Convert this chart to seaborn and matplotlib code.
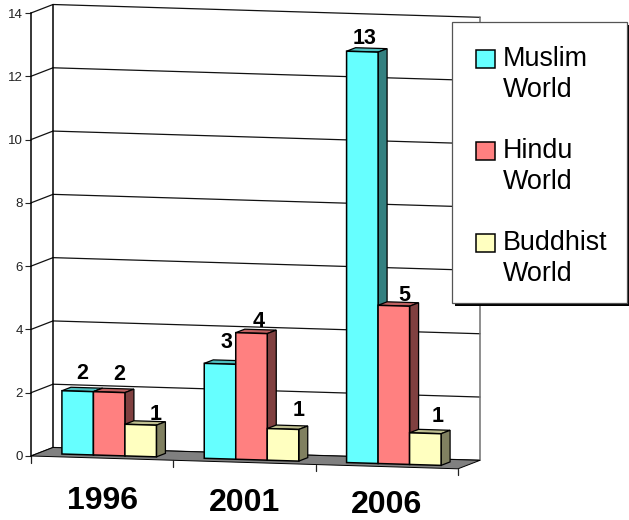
import matplotlib
matplotlib.use('Agg')
import matplotlib.pyplot as plt
import seaborn as sns
import pandas as pd
import numpy as np
from matplotlib.patches import Polygon, Rectangle
from matplotlib.transforms import Affine2D, IdentityTransform

# data
years = ['1996', '2001', '2006']
groups = ['Muslim\nWorld', 'Hindu\nWorld', 'Buddhist\nWorld']
muslim = [2, 3, 13]
hindu = [2, 4, 5]
buddhist = [1, 1, 1]
y_ticks = [0, 2, 4, 6, 8, 10, 12, 14]

front_colors = ['#66FFFF', '#FF8080', '#FFFFC0']
top_colors = ['#4DBFBF', '#BF6060', '#BFBF90']
side_colors = ['#338080', '#804040', '#808060']

# pixel nudges of the labels (excel placed them a bit unevenly)
label_nudge = [[(5, 18), (10, 18), (15, 10)],
               [(6, 21), (7, 12), (16, 19)],
               [(2, 13), (10, 10), (12, 17)]]
year_nudge = [-43, -41, -38]

sns.set_theme(style='white')
plt.rcParams['font.family'] = ['Liberation Sans', 'DejaVu Sans']

W, H = 629, 520
fig = plt.figure(figsize=(W / 100, H / 100), dpi=100)
ax = fig.add_axes([31 / W, 1 - 456 / H, 427 / W, 443 / H])

df = pd.DataFrame({
    'year': np.repeat(years, 3),
    'group': groups * 3,
    'value': np.array([muslim, hindu, buddhist]).T.ravel(),
})
sns.barplot(data=df, x='year', y='value', hue='group', hue_order=groups, order=years,
            palette=front_colors, saturation=1, width=0.664, gap=0, errorbar=None,
            edgecolor='black', linewidth=1.1, ax=ax)

ax.set_xlim(-0.5, 2.5)
ax.set_ylim(0, 14)
ax.set_yticks(y_ticks)
ax.set_xticks([])
ax.set_xlabel('')
ax.set_ylabel('')
ax.patch.set_alpha(0)
for s in ['top', 'right', 'bottom']:
    ax.spines[s].set_visible(False)
ax.spines['left'].set_color('black')
ax.spines['left'].set_linewidth(1.1)
ax.tick_params(axis='y', left=True, length=4.3, width=0.8, color='#222222',
               labelsize=9.5, labelcolor='#222222', pad=1.5)

# fake 3d: shear everything down to the right, depth is a shift up-right
K = 0.03
DX, DY = 22, 8.5
shear = Affine2D(np.array([[1, 0, 0], [-K, 1, K * 31], [0, 0, 1]]))


def plane(d):
    return ax.transData + shear + Affine2D().translate(DX * d, DY * d)


front = plane(0)
back = plane(1)
px = IdentityTransform()

# floor
xl = ax.get_xlim()
corners = [(xl[0], 0), (xl[1], 0)]
floor_pts = np.vstack([front.transform(corners), back.transform(corners[::-1])])
ax.add_patch(Polygon(floor_pts, closed=True, facecolor='#808080', edgecolor='black',
                     linewidth=0.7, transform=px, zorder=1, clip_on=False))

# walls
for v in y_ticks:
    ax.plot(xl, [v, v], color='#111111', lw=0.9, transform=back, zorder=0.5, clip_on=False)
    p = np.vstack([front.transform([(xl[0], v)]), back.transform([(xl[0], v)])])
    ax.plot(p[:, 0], p[:, 1], color='#111111', lw=0.9, transform=px, zorder=0.5, clip_on=False)
ax.plot([xl[0], xl[0]], [0, 14], color='black', lw=1.1, transform=back, zorder=0.5, clip_on=False)
ax.plot([xl[1], xl[1]], [0, 14], color='#707070', lw=1.1, transform=back, zorder=0.5, clip_on=False)

# category ticks + year labels
for u in [-0.5, 0.5, 1.5, 2.5]:
    p = front.transform([(u, 0)])[0]
    ax.plot([p[0], p[0]], [p[1], p[1] - 6.5], color='#222222', lw=0.9, transform=px,
            zorder=1, clip_on=False)
for i, yr in enumerate(years):
    ax.annotate(yr, xy=(i, 0), xycoords=front, xytext=(0, year_nudge[i]), textcoords='offset pixels',
                ha='center', va='center', fontsize=23, fontweight='bold', color='black',
                annotation_clip=False)

# bars: front face from seaborn, top and side added behind it
bar_front = plane(7 / 22)
bar_back = plane(16 / 22)
for h, cont in enumerate(ax.containers):
    for i, bar in enumerate(cont):
        z = 3 + h + i * 3
        bar.set_transform(bar_front)
        bar.set_clip_on(False)
        bar.set_zorder(z + 0.2)
        x0, x1 = bar.get_x(), bar.get_x() + bar.get_width()
        top = bar.get_height()
        a, b = bar_front.transform([(x0, top), (x1, top)])
        c, d = bar_back.transform([(x0, top), (x1, top)])
        e = bar_front.transform([(x1, 0)])[0]
        f = bar_back.transform([(x1, 0)])[0]
        ax.add_patch(Polygon([a, b, d, c], closed=True, facecolor=top_colors[h], edgecolor='black',
                             linewidth=0.9, transform=px, zorder=z, clip_on=False))
        ax.add_patch(Polygon([b, d, f, e], closed=True, facecolor=side_colors[h], edgecolor='black',
                             linewidth=0.9, transform=px, zorder=z, clip_on=False))
        ax.annotate(str(int(top)), xy=((x0 + x1) / 2, top), xycoords=bar_front,
                    xytext=label_nudge[i][h], textcoords='offset pixels', ha='center', va='center',
                    fontsize=15.5, fontweight='bold', color='black', zorder=30,
                    annotation_clip=False)

# legend: box drawn by hand because the auto frame comes out too tall
box = (452 / W, 1 - 303 / H), 175 / W, 281 / H
ax.add_patch(Rectangle((box[0][0] + 3 / W, box[0][1] - 3 / H), box[1], box[2], transform=fig.transFigure,
                       facecolor='black', edgecolor='none', zorder=48, clip_on=False))
ax.add_patch(Rectangle(box[0], box[1], box[2], transform=fig.transFigure, facecolor='white',
                       edgecolor='#555555', linewidth=0.9, zorder=49, clip_on=False))
sns.move_legend(ax, loc='upper left', bbox_to_anchor=(452 / W, 1 - 22 / H),
                bbox_transform=fig.transFigure, title=None, frameon=False,
                fontsize=19.4, labelspacing=1.3, handlelength=0.68, handleheight=0.65,
                handletextpad=0.3, borderpad=0.9, borderaxespad=0)
leg = ax.get_legend()
leg.set_zorder(50)
for t in leg.get_texts():
    t.set_linespacing(1.25)
    t.set_color('black')
# swatch sits on the first text line, not in the middle
for sw in leg.get_patches():
    sw.set_y(sw.get_y() + 12)

fig.savefig('out.png', dpi=100, facecolor='white')
